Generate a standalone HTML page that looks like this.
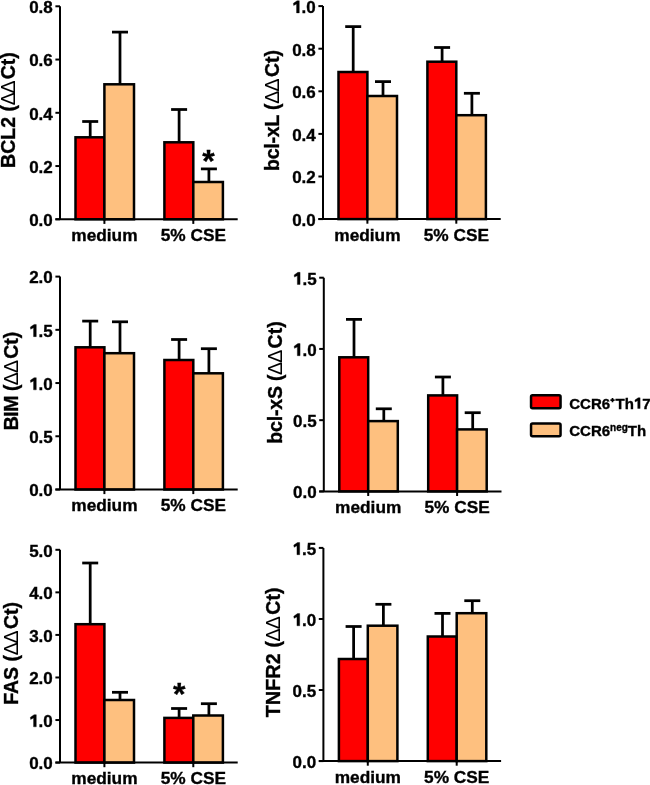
<!DOCTYPE html>
<html><head><meta charset="utf-8"><style>
html,body{margin:0;padding:0;background:#fff;}
svg{display:block;will-change:transform;filter:blur(0.35px);}
text{font-family:"Liberation Sans",sans-serif;font-weight:bold;fill:#000;stroke:#000;stroke-width:0.35px;}
.tl{font-size:17px;text-anchor:end;}
.xl{font-size:17.3px;text-anchor:middle;}
.ti{font-size:19.5px;}
.d{font-weight:normal;stroke-width:0;}
.st{font-size:32px;text-anchor:middle;dominant-baseline:central;}
.lg{font-size:15px;}
.sup{font-size:10px;}
.hid{fill:none;stroke:none;}
.one{fill:#000;stroke:#000;stroke-width:0.35px;}
.b{stroke:#000;stroke-width:2.5;}
.e{stroke:#000;stroke-width:2.75;fill:none;}
.a{stroke:#000;stroke-width:2.0;fill:none;}
</style></head><body>
<svg width="650" height="785" viewBox="0 0 650 785">
<line x1="90.2" y1="121.5" x2="90.2" y2="137.3" class="e"/>
<line x1="82.2" y1="121.5" x2="98.2" y2="121.5" class="e"/>
<rect x="75.5" y="137.3" width="28.9" height="82" fill="#ff0000" class="b"/>
<line x1="120" y1="32.1" x2="120" y2="84.3" class="e"/>
<line x1="112" y1="32.1" x2="128" y2="32.1" class="e"/>
<rect x="104.4" y="84.3" width="29.6" height="135" fill="#fec07f" class="b"/>
<line x1="179.1" y1="109.5" x2="179.1" y2="142.3" class="e"/>
<line x1="171.1" y1="109.5" x2="187.1" y2="109.5" class="e"/>
<rect x="164.4" y="142.3" width="28.9" height="77" fill="#ff0000" class="b"/>
<line x1="208.9" y1="168.9" x2="208.9" y2="182" class="e"/>
<line x1="200.9" y1="168.9" x2="216.9" y2="168.9" class="e"/>
<rect x="193.3" y="182" width="29.6" height="37.3" fill="#fec07f" class="b"/>
<path d="M60 6.3V219.3M55.4 219.3H237.7" class="a"/>
<line x1="55.4" y1="219.3" x2="60" y2="219.3" class="a"/>
<text x="52.8" y="226.1" class="tl">0.0</text>
<line x1="55.4" y1="166.05" x2="60" y2="166.05" class="a"/>
<text x="52.8" y="172.85" class="tl">0.2</text>
<line x1="55.4" y1="112.8" x2="60" y2="112.8" class="a"/>
<text x="52.8" y="119.6" class="tl">0.4</text>
<line x1="55.4" y1="59.55" x2="60" y2="59.55" class="a"/>
<text x="52.8" y="66.35" class="tl">0.6</text>
<line x1="55.4" y1="6.3" x2="60" y2="6.3" class="a"/>
<text x="52.8" y="13.1" class="tl">0.8</text>
<line x1="104.4" y1="219.3" x2="104.4" y2="223.9" class="a"/>
<line x1="193.3" y1="219.3" x2="193.3" y2="223.9" class="a"/>
<text x="104.4" y="241" class="xl">medium</text>
<text x="193.3" y="241" class="xl">5% CSE</text>
<text transform="translate(14.9 167.95) rotate(-90)" class="ti">BCL2 (</text>
<text transform="translate(14.9 105.2) rotate(-90)" class="ti d">&#916;</text>
<text transform="translate(14.9 93.4) rotate(-90)" class="ti d">&#916;</text>
<text transform="translate(14.9 79.35) rotate(-90)" class="ti">Ct)</text>
<text x="208.4" y="160.7" class="st">*</text>
<line x1="353.2" y1="26.6" x2="353.2" y2="72" class="e"/>
<line x1="345.2" y1="26.6" x2="361.2" y2="26.6" class="e"/>
<rect x="338.5" y="72" width="28.9" height="147.1" fill="#ff0000" class="b"/>
<line x1="383" y1="81.6" x2="383" y2="96" class="e"/>
<line x1="375" y1="81.6" x2="391" y2="81.6" class="e"/>
<rect x="367.4" y="96" width="29.6" height="123.1" fill="#fec07f" class="b"/>
<line x1="442.1" y1="47.5" x2="442.1" y2="61.7" class="e"/>
<line x1="434.1" y1="47.5" x2="450.1" y2="47.5" class="e"/>
<rect x="427.4" y="61.7" width="28.9" height="157.4" fill="#ff0000" class="b"/>
<line x1="471.9" y1="93.3" x2="471.9" y2="115.2" class="e"/>
<line x1="463.9" y1="93.3" x2="479.9" y2="93.3" class="e"/>
<rect x="456.3" y="115.2" width="29.6" height="103.9" fill="#fec07f" class="b"/>
<path d="M323 6.1V219.1M318.4 219.1H500.7" class="a"/>
<line x1="318.4" y1="219.1" x2="323" y2="219.1" class="a"/>
<text x="315.8" y="225.9" class="tl">0.0</text>
<line x1="318.4" y1="176.5" x2="323" y2="176.5" class="a"/>
<text x="315.8" y="183.3" class="tl">0.2</text>
<line x1="318.4" y1="133.9" x2="323" y2="133.9" class="a"/>
<text x="315.8" y="140.7" class="tl">0.4</text>
<line x1="318.4" y1="91.3" x2="323" y2="91.3" class="a"/>
<text x="315.8" y="98.1" class="tl">0.6</text>
<line x1="318.4" y1="48.7" x2="323" y2="48.7" class="a"/>
<text x="315.8" y="55.5" class="tl">0.8</text>
<line x1="318.4" y1="6.1" x2="323" y2="6.1" class="a"/>
<text x="315.8" y="12.9" class="tl"><tspan class="hid">1</tspan>.0</text>
<path d="M299.29 12.9 L299.29 0.73 L297.1 0.73 L293.36 3.29 L293.65 5.5 L296.54 4.06 L296.54 12.9Z" class="one"/>
<line x1="367.4" y1="219.1" x2="367.4" y2="223.7" class="a"/>
<line x1="456.3" y1="219.1" x2="456.3" y2="223.7" class="a"/>
<text x="367.4" y="240.8" class="xl">medium</text>
<text x="456.3" y="240.8" class="xl">5% CSE</text>
<text transform="translate(279.4 171.05) rotate(-90)" class="ti" style="letter-spacing:-0.214px">bcl-xL (</text>
<text transform="translate(279.4 103.8) rotate(-90)" class="ti d">&#916;</text>
<text transform="translate(279.4 91.4) rotate(-90)" class="ti d">&#916;</text>
<text transform="translate(279.4 77.05) rotate(-90)" class="ti">Ct)</text>
<line x1="90.2" y1="321.1" x2="90.2" y2="347.3" class="e"/>
<line x1="82.2" y1="321.1" x2="98.2" y2="321.1" class="e"/>
<rect x="75.5" y="347.3" width="28.9" height="142.2" fill="#ff0000" class="b"/>
<line x1="120" y1="321.8" x2="120" y2="353.2" class="e"/>
<line x1="112" y1="321.8" x2="128" y2="321.8" class="e"/>
<rect x="104.4" y="353.2" width="29.6" height="136.3" fill="#fec07f" class="b"/>
<line x1="179.1" y1="339.5" x2="179.1" y2="360" class="e"/>
<line x1="171.1" y1="339.5" x2="187.1" y2="339.5" class="e"/>
<rect x="164.4" y="360" width="28.9" height="129.5" fill="#ff0000" class="b"/>
<line x1="208.9" y1="348.7" x2="208.9" y2="373.3" class="e"/>
<line x1="200.9" y1="348.7" x2="216.9" y2="348.7" class="e"/>
<rect x="193.3" y="373.3" width="29.6" height="116.2" fill="#fec07f" class="b"/>
<path d="M60 276.6V489.5M55.4 489.5H237.7" class="a"/>
<line x1="55.4" y1="489.5" x2="60" y2="489.5" class="a"/>
<text x="52.8" y="496.3" class="tl">0.0</text>
<line x1="55.4" y1="436.27" x2="60" y2="436.27" class="a"/>
<text x="52.8" y="443.07" class="tl">0.5</text>
<line x1="55.4" y1="383.05" x2="60" y2="383.05" class="a"/>
<text x="52.8" y="389.85" class="tl"><tspan class="hid">1</tspan>.0</text>
<path d="M36.29 389.85 L36.29 377.68 L34.1 377.68 L30.36 380.25 L30.65 382.46 L33.54 381.01 L33.54 389.85Z" class="one"/>
<line x1="55.4" y1="329.83" x2="60" y2="329.83" class="a"/>
<text x="52.8" y="336.63" class="tl"><tspan class="hid">1</tspan>.5</text>
<path d="M36.29 336.63 L36.29 324.45 L34.1 324.45 L30.36 327.02 L30.65 329.23 L33.54 327.79 L33.54 336.63Z" class="one"/>
<line x1="55.4" y1="276.6" x2="60" y2="276.6" class="a"/>
<text x="52.8" y="283.4" class="tl">2.0</text>
<line x1="104.4" y1="489.5" x2="104.4" y2="494.1" class="a"/>
<line x1="193.3" y1="489.5" x2="193.3" y2="494.1" class="a"/>
<text x="104.4" y="511.2" class="xl">medium</text>
<text x="193.3" y="511.2" class="xl">5% CSE</text>
<text transform="translate(18.4 430.25) rotate(-90)" class="ti" style="letter-spacing:-0.500px">BIM (</text>
<text transform="translate(18.4 385.2) rotate(-90)" class="ti d">&#916;</text>
<text transform="translate(18.4 373.1) rotate(-90)" class="ti d">&#916;</text>
<text transform="translate(18.4 358.75) rotate(-90)" class="ti">Ct)</text>
<line x1="354" y1="319.4" x2="354" y2="357.3" class="e"/>
<line x1="346" y1="319.4" x2="362" y2="319.4" class="e"/>
<rect x="339.3" y="357.3" width="28.9" height="134.1" fill="#ff0000" class="b"/>
<line x1="383.8" y1="408.8" x2="383.8" y2="421.1" class="e"/>
<line x1="375.8" y1="408.8" x2="391.8" y2="408.8" class="e"/>
<rect x="368.2" y="421.1" width="29.6" height="70.3" fill="#fec07f" class="b"/>
<line x1="442.9" y1="377" x2="442.9" y2="395.4" class="e"/>
<line x1="434.9" y1="377" x2="450.9" y2="377" class="e"/>
<rect x="428.2" y="395.4" width="28.9" height="96" fill="#ff0000" class="b"/>
<line x1="472.7" y1="412.7" x2="472.7" y2="429.4" class="e"/>
<line x1="464.7" y1="412.7" x2="480.7" y2="412.7" class="e"/>
<rect x="457.1" y="429.4" width="29.6" height="62" fill="#fec07f" class="b"/>
<path d="M323.8 277.7V491.4M319.2 491.4H501.5" class="a"/>
<line x1="319.2" y1="491.4" x2="323.8" y2="491.4" class="a"/>
<text x="316.6" y="498.2" class="tl">0.0</text>
<line x1="319.2" y1="420.17" x2="323.8" y2="420.17" class="a"/>
<text x="316.6" y="426.97" class="tl">0.5</text>
<line x1="319.2" y1="348.93" x2="323.8" y2="348.93" class="a"/>
<text x="316.6" y="355.73" class="tl"><tspan class="hid">1</tspan>.0</text>
<path d="M300.09 355.73 L300.09 343.56 L297.9 343.56 L294.16 346.13 L294.45 348.34 L297.34 346.89 L297.34 355.73Z" class="one"/>
<line x1="319.2" y1="277.7" x2="323.8" y2="277.7" class="a"/>
<text x="316.6" y="284.5" class="tl"><tspan class="hid">1</tspan>.5</text>
<path d="M300.09 284.5 L300.09 272.33 L297.9 272.33 L294.16 274.9 L294.45 277.11 L297.34 275.66 L297.34 284.5Z" class="one"/>
<line x1="368.2" y1="491.4" x2="368.2" y2="496" class="a"/>
<line x1="457.1" y1="491.4" x2="457.1" y2="496" class="a"/>
<text x="368.2" y="513.1" class="xl">medium</text>
<text x="457.1" y="513.1" class="xl">5% CSE</text>
<text transform="translate(282.2 443.75) rotate(-90)" class="ti" style="letter-spacing:-0.171px">bcl-xS (</text>
<text transform="translate(282.2 374.9) rotate(-90)" class="ti d">&#916;</text>
<text transform="translate(282.2 362.8) rotate(-90)" class="ti d">&#916;</text>
<text transform="translate(282.2 348.45) rotate(-90)" class="ti">Ct)</text>
<line x1="90.2" y1="563" x2="90.2" y2="624.2" class="e"/>
<line x1="82.2" y1="563" x2="98.2" y2="563" class="e"/>
<rect x="75.5" y="624.2" width="28.9" height="138.4" fill="#ff0000" class="b"/>
<line x1="120" y1="692.3" x2="120" y2="700" class="e"/>
<line x1="112" y1="692.3" x2="128" y2="692.3" class="e"/>
<rect x="104.4" y="700" width="29.6" height="62.6" fill="#fec07f" class="b"/>
<line x1="179.1" y1="708.5" x2="179.1" y2="717.9" class="e"/>
<line x1="171.1" y1="708.5" x2="187.1" y2="708.5" class="e"/>
<rect x="164.4" y="717.9" width="28.9" height="44.7" fill="#ff0000" class="b"/>
<line x1="208.9" y1="703.7" x2="208.9" y2="715.5" class="e"/>
<line x1="200.9" y1="703.7" x2="216.9" y2="703.7" class="e"/>
<rect x="193.3" y="715.5" width="29.6" height="47.1" fill="#fec07f" class="b"/>
<path d="M60 549.8V762.6M55.4 762.6H237.7" class="a"/>
<line x1="55.4" y1="762.6" x2="60" y2="762.6" class="a"/>
<text x="52.8" y="769.4" class="tl">0.0</text>
<line x1="55.4" y1="720.04" x2="60" y2="720.04" class="a"/>
<text x="52.8" y="726.84" class="tl"><tspan class="hid">1</tspan>.0</text>
<path d="M36.29 726.84 L36.29 714.67 L34.1 714.67 L30.36 717.23 L30.65 719.44 L33.54 718 L33.54 726.84Z" class="one"/>
<line x1="55.4" y1="677.48" x2="60" y2="677.48" class="a"/>
<text x="52.8" y="684.28" class="tl">2.0</text>
<line x1="55.4" y1="634.92" x2="60" y2="634.92" class="a"/>
<text x="52.8" y="641.72" class="tl">3.0</text>
<line x1="55.4" y1="592.36" x2="60" y2="592.36" class="a"/>
<text x="52.8" y="599.16" class="tl">4.0</text>
<line x1="55.4" y1="549.8" x2="60" y2="549.8" class="a"/>
<text x="52.8" y="556.6" class="tl">5.0</text>
<line x1="104.4" y1="762.6" x2="104.4" y2="767.2" class="a"/>
<line x1="193.3" y1="762.6" x2="193.3" y2="767.2" class="a"/>
<text x="104.4" y="784.3" class="xl">medium</text>
<text x="193.3" y="784.3" class="xl">5% CSE</text>
<text transform="translate(18.1 704.85) rotate(-90)" class="ti">FAS (</text>
<text transform="translate(18.1 655.2) rotate(-90)" class="ti d">&#916;</text>
<text transform="translate(18.1 643.4) rotate(-90)" class="ti d">&#916;</text>
<text transform="translate(18.1 629.05) rotate(-90)" class="ti">Ct)</text>
<text x="179.3" y="694.3" class="st">*</text>
<line x1="353.6" y1="626.5" x2="353.6" y2="659" class="e"/>
<line x1="345.6" y1="626.5" x2="361.6" y2="626.5" class="e"/>
<rect x="338.9" y="659" width="28.9" height="102.1" fill="#ff0000" class="b"/>
<line x1="383.4" y1="604.3" x2="383.4" y2="625.7" class="e"/>
<line x1="375.4" y1="604.3" x2="391.4" y2="604.3" class="e"/>
<rect x="367.8" y="625.7" width="29.6" height="135.4" fill="#fec07f" class="b"/>
<line x1="442.5" y1="613.4" x2="442.5" y2="636.5" class="e"/>
<line x1="434.5" y1="613.4" x2="450.5" y2="613.4" class="e"/>
<rect x="427.8" y="636.5" width="28.9" height="124.6" fill="#ff0000" class="b"/>
<line x1="472.3" y1="600.7" x2="472.3" y2="613.2" class="e"/>
<line x1="464.3" y1="600.7" x2="480.3" y2="600.7" class="e"/>
<rect x="456.7" y="613.2" width="29.6" height="147.9" fill="#fec07f" class="b"/>
<path d="M323.4 547.9V761.1M318.8 761.1H501.1" class="a"/>
<line x1="318.8" y1="761.1" x2="323.4" y2="761.1" class="a"/>
<text x="316.2" y="767.9" class="tl">0.0</text>
<line x1="318.8" y1="690.03" x2="323.4" y2="690.03" class="a"/>
<text x="316.2" y="696.83" class="tl">0.5</text>
<line x1="318.8" y1="618.97" x2="323.4" y2="618.97" class="a"/>
<text x="316.2" y="625.77" class="tl"><tspan class="hid">1</tspan>.0</text>
<path d="M299.69 625.77 L299.69 613.59 L297.5 613.59 L293.76 616.16 L294.05 618.37 L296.94 616.93 L296.94 625.77Z" class="one"/>
<line x1="318.8" y1="547.9" x2="323.4" y2="547.9" class="a"/>
<text x="316.2" y="554.7" class="tl"><tspan class="hid">1</tspan>.5</text>
<path d="M299.69 554.7 L299.69 542.53 L297.5 542.53 L293.76 545.09 L294.05 547.3 L296.94 545.86 L296.94 554.7Z" class="one"/>
<line x1="367.8" y1="761.1" x2="367.8" y2="765.7" class="a"/>
<line x1="456.7" y1="761.1" x2="456.7" y2="765.7" class="a"/>
<text x="367.8" y="782.8" class="xl">medium</text>
<text x="456.7" y="782.8" class="xl">5% CSE</text>
<text transform="translate(279.7 717.25) rotate(-90)" class="ti" style="letter-spacing:0.250px">TNFR2 (</text>
<text transform="translate(279.7 641.4) rotate(-90)" class="ti d">&#916;</text>
<text transform="translate(279.7 629.3) rotate(-90)" class="ti d">&#916;</text>
<text transform="translate(279.7 614.65) rotate(-90)" class="ti">Ct)</text>

<rect x="531.05" y="395.35" width="29.5" height="13" rx="1.5" fill="#ff0000" class="b"/>
<rect x="531.05" y="423.45" width="29.5" height="12.9" rx="1.5" fill="#fec07f" class="b"/>
<text x="569.25" y="408.5" class="lg">CCR6</text><path d="M610.4 400.2H614.6M612.5 398.1V402.3" stroke="#000" stroke-width="1.7" fill="none"/><text x="615.5" y="408.5" class="lg">Th<tspan class="hid">1</tspan>7</text><path d="M640.12 408.5 L640.12 397.76 L638.18 397.76 L634.88 400.02 L635.13 401.98 L637.69 400.7 L637.69 408.5Z" class="one"/>
<text x="569.25" y="435.6" class="lg">CCR6</text><text x="610.05" y="431" class="sup">neg</text><text x="627.85" y="435.7" class="lg">Th</text>

</svg>
</body></html>
